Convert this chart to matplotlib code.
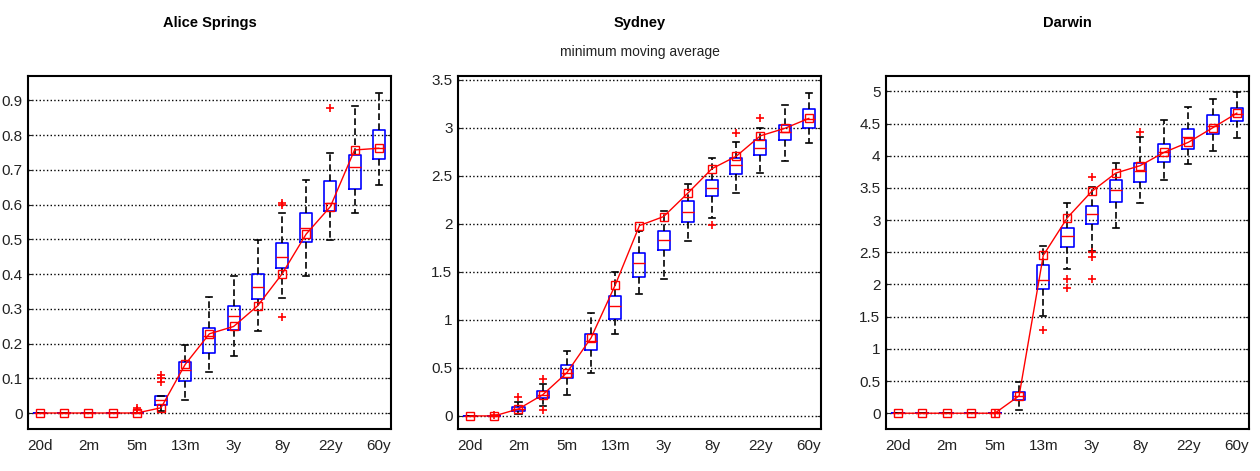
import numpy as np
import matplotlib.pyplot as plt

plt.rcParams['font.family'] = ['Liberation Sans', 'DejaVu Sans']

positions = list(range(1, 16))
tick_pos = [1, 3, 5, 7, 9, 11, 13, 15]
tick_labels = ['20d', '2m', '5m', '13m', '3y', '8y', '22y', '60y']

# Alice Springs
as_q1 = [0, 0, 0, 0, 0, 0.024, 0.091, 0.172, 0.239, 0.328, 0.417, 0.493, 0.580, 0.644, 0.730]
as_med = [0, 0, 0, 0, 0, 0.038, 0.125, 0.222, 0.278, 0.362, 0.450, 0.532, 0.603, 0.709, 0.764]
as_q3 = [0, 0, 0, 0, 0, 0.050, 0.146, 0.244, 0.309, 0.400, 0.488, 0.575, 0.669, 0.742, 0.814]
as_lo = [0, 0, 0, 0, 0, 0.005, 0.036, 0.117, 0.163, 0.235, 0.332, 0.393, 0.498, 0.575, 0.656]
as_hi = [0, 0, 0, 0, 0, 0.050, 0.196, 0.333, 0.395, 0.498, 0.575, 0.672, 0.749, 0.884, 0.921]
as_out = [[], [], [], [], [0.01, 0.015], [0.09, 0.10, 0.11], [], [], [], [],
          [0.60, 0.605, 0.276], [], [0.878], [], []]
as_line = [0, 0, 0, 0, 0, 0.015, 0.14, 0.228, 0.249, 0.309, 0.40, 0.515, 0.594, 0.757, 0.762]

# Sydney
sy_q1 = [0, 0, 0.056, 0.185, 0.394, 0.684, 1.012, 1.448, 1.727, 2.024, 2.285, 2.523, 2.722, 2.872, 3.001]
sy_med = [0, 0, 0.075, 0.220, 0.447, 0.778, 1.144, 1.591, 1.832, 2.121, 2.373, 2.610, 2.791, 2.959, 3.091]
sy_q3 = [0, 0, 0.098, 0.255, 0.534, 0.858, 1.249, 1.696, 1.930, 2.243, 2.460, 2.690, 2.872, 3.029, 3.196]
sy_lo = [0, 0, 0.020, 0.100, 0.213, 0.447, 0.848, 1.274, 1.424, 1.818, 2.059, 2.324, 2.533, 2.655, 2.844]
sy_hi = [0, 0, 0.150, 0.330, 0.673, 1.068, 1.500, 1.930, 2.139, 2.418, 2.690, 2.854, 2.994, 3.238, 3.360]
sy_out = [[], [0.01], [0.20], [0.38, 0.06], [], [], [], [], [], [],
          [1.992], [2.948], [3.105], [], []]
sy_line = [0, 0, 0.073, 0.220, 0.450, 0.813, 1.364, 1.982, 2.076, 2.320, 2.575, 2.704, 2.917, 2.994, 3.098]

# Darwin
dw_q1 = [0, 0, 0, 0, 0, 0.208, 1.923, 2.588, 2.937, 3.285, 3.597, 3.909, 4.106, 4.340, 4.548]
dw_med = [0, 0, 0, 0, 0, 0.260, 2.069, 2.755, 3.093, 3.467, 3.768, 4.054, 4.288, 4.470, 4.652]
dw_q3 = [0, 0, 0, 0, 0, 0.322, 2.297, 2.885, 3.212, 3.623, 3.883, 4.184, 4.418, 4.626, 4.746]
dw_lo = [0, 0, 0, 0, 0, 0.050, 1.518, 2.245, 2.521, 2.885, 3.264, 3.623, 3.872, 4.080, 4.278]
dw_hi = [0, 0, 0, 0, 0, 0.483, 2.599, 3.274, 3.519, 3.888, 4.288, 4.558, 4.756, 4.886, 4.990]
dw_out = [[], [], [], [], [0.0], [], [1.289], [2.09, 1.95], [3.664, 2.505, 2.43, 2.079], [],
          [4.376], [], [], [], []]
dw_line = [0, 0, 0, 0, 0, 0.27, 2.453, 3.04, 3.446, 3.732, 3.846, 4.054, 4.21, 4.434, 4.662]

panels = [
    ('Alice Springs', as_q1, as_med, as_q3, as_lo, as_hi, as_out, as_line,
     (-0.046, 0.97), np.arange(0, 0.91, 0.1), ['0', '0.1', '0.2', '0.3', '0.4', '0.5', '0.6', '0.7', '0.8', '0.9']),
    ('Sydney', sy_q1, sy_med, sy_q3, sy_lo, sy_hi, sy_out, sy_line,
     (-0.136, 3.54), np.arange(0, 3.51, 0.5), ['0', '0.5', '1', '1.5', '2', '2.5', '3', '3.5']),
    ('Darwin', dw_q1, dw_med, dw_q3, dw_lo, dw_hi, dw_out, dw_line,
     (-0.245, 5.24), np.arange(0, 5.01, 0.5), ['0', '0.5', '1', '1.5', '2', '2.5', '3', '3.5', '4', '4.5', '5']),
]

lefts = [0.0222, 0.3635, 0.7032]

fig = plt.figure(figsize=(12.6, 4.71), dpi=100)

for (name, q1, med, q3, lo, hi, out, line, ylim, yt, ytl), left in zip(panels, lefts):
    ax = fig.add_axes([left, 0.0892, 0.288, 0.7495])
    stats = []
    for i in range(len(positions)):
        stats.append(dict(q1=q1[i], med=med[i], q3=q3[i], whislo=lo[i], whishi=hi[i], fliers=out[i]))
    ax.bxp(stats, positions=positions, widths=0.5, manage_ticks=False,
           boxprops=dict(color='blue', lw=1.2),
           medianprops=dict(color='red', lw=1),
           whiskerprops=dict(color='black', lw=1.2, ls=(0, (4, 2))),
           capprops=dict(color='black', lw=1.2),
           flierprops=dict(marker='+', markeredgecolor='red', markersize=6, mew=1.2))
    ax.plot(positions, line, color='red', lw=1, marker='s', ms=5.5, mfc='none', mec='red', mew=1, zorder=5)
    ax.set_xlim(0.5, 15.5)
    ax.set_ylim(*ylim)
    ax.set_xticks(tick_pos)
    ax.set_xticklabels(tick_labels)
    ax.set_yticks(yt)
    ax.set_yticklabels(ytl)
    ax.yaxis.grid(True, color='black', ls=':', lw=1)
    ax.tick_params(axis='both', direction='in', length=3, labelsize=11, colors='#222222')
    ax.tick_params(axis='x', length=0, pad=7)
    ax.tick_params(axis='y', right=True, pad=4)
    for s in ax.spines.values():
        s.set_linewidth(1.5)
    ax.text(0.5, 1.15, name, transform=ax.transAxes, ha='center', va='center',
            fontsize=10.5, fontweight='bold')
    if name == 'Sydney':
        ax.text(0.5, 1.068, 'minimum moving average', transform=ax.transAxes,
                ha='center', va='center', fontsize=10, color='#222222')

fig.savefig('out.png', dpi=100)
